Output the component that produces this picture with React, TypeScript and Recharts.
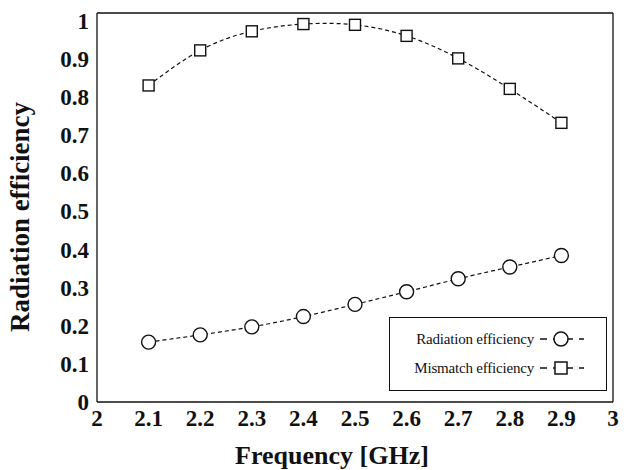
import { Legend, Line, LineChart, XAxis, YAxis } from "recharts";

const frequency = [2.1, 2.2, 2.3, 2.4, 2.5, 2.6, 2.7, 2.8, 2.9];
const radiationEff = [0.157, 0.176, 0.197, 0.224, 0.256, 0.289, 0.323, 0.354, 0.384];
const mismatchEff = [0.83, 0.922, 0.972, 0.991, 0.989, 0.96, 0.901, 0.821, 0.732];

const xTicks = [2, 2.1, 2.2, 2.3, 2.4, 2.5, 2.6, 2.7, 2.8, 2.9, 3];
const yTicks = [0, 0.1, 0.2, 0.3, 0.4, 0.5, 0.6, 0.7, 0.8, 0.9, 1];
const xLabels = ["2", "2.1", "2.2", "2.3", "2.4", "2.5", "2.6", "2.7", "2.8", "2.9", "3"];
const yLabels = ["0", "0.1", "0.2", "0.3", "0.4", "0.5", "0.6", "0.7", "0.8", "0.9", "1"];

const seriesNames = ["Radiation efficiency", "Mismatch efficiency"];

// minor ticks every 0.02 between the major ones
function minorTicks(from: number, to: number) {
  const out: number[] = [];
  for (let i = Math.round(from * 50); i <= Math.round(to * 50); i++) {
    if (i % 5 !== 0) out.push(i / 50);
  }
  return out;
}
const xMinor = minorTicks(2, 3);
const yMinor = minorTicks(0, 1.02);

const data = frequency.map((f, i) => ({ f, rad: radiationEff[i], mis: mismatchEff[i] }));

const serif = "Liberation Serif";
const ink = "#111";
const X_DOMAIN = [2, 3];
const Y_DOMAIN = [0, 1.02];

function SquareDot(props: any) {
  const { cx, cy, index } = props;
  if (cx == null || cy == null) return null;
  return <rect key={`sq-${index}`} x={cx - 5.5} y={cy - 5.5} width={11} height={11} fill="#fff" stroke={ink} strokeWidth={1.4} />;
}

function CircleDot(props: any) {
  const { cx, cy, index } = props;
  if (cx == null || cy == null) return null;
  return <circle key={`ci-${index}`} cx={cx} cy={cy} r={7} fill="#fff" stroke={ink} strokeWidth={1.4} />;
}

function LegendBox() {
  const rows = [
    { name: seriesNames[0], shape: "circle" },
    { name: seriesNames[1], shape: "square" }
  ];
  return (
    <div style={{ position: "relative", width: 218, height: 74, border: `1px solid ${ink}`, background: "#fff", boxSizing: "border-box", fontFamily: serif, fontSize: 15, color: ink }}>
      {rows.map((row, i) => (
        <div key={row.name} style={{ position: "absolute", right: 20, top: 12 + i * 29, display: "flex", alignItems: "center", whiteSpace: "nowrap", letterSpacing: -0.2 }}>
          <span>{row.name}</span>
          <svg width={48} height={18} style={{ marginLeft: 4 }}>
            <line x1={2} x2={46} y1={9} y2={9} stroke={ink} strokeWidth={1.5} strokeDasharray="7 6" />
            {row.shape === "circle"
              ? <circle cx={23} cy={9} r={7} fill="#fff" stroke={ink} strokeWidth={1.5} />
              : <rect x={17} y={3} width={12} height={12} fill="#fff" stroke={ink} strokeWidth={1.5} />}
          </svg>
        </div>
      ))}
    </div>
  );
}

const boldSerif = { fontFamily: serif, fontWeight: 700 };
const tickStyle = { fill: ink, fontSize: 23, style: boldSerif };
const tickLine = { stroke: ink, strokeWidth: 1 };

export default function App() {
  return (
    <div style={{ position: "absolute", left: 0, top: 0, width: 630, height: 470, background: "#fff", fontFamily: serif }}>
      <LineChart width={630} height={470} data={data} margin={{ top: 13, right: 17, bottom: 0, left: 0 }} style={{ fontFamily: serif }}>
        <XAxis
          xAxisId="x" dataKey="f" type="number" domain={X_DOMAIN} ticks={xTicks} interval={0} allowDataOverflow
          height={68} tickSize={0} tickMargin={8} tickLine={false}
          tickFormatter={(v: number) => xLabels[xTicks.indexOf(v)] ?? String(v)}
          axisLine={{ stroke: ink, strokeWidth: 1.3 }} tick={tickStyle}
          label={() => (
            <text x={332} y={464} textAnchor="middle" fontSize={26} fill={ink} style={boldSerif}>Frequency [GHz]</text>
          )}
        />
        <YAxis
          yAxisId="y" type="number" domain={Y_DOMAIN} ticks={yTicks} interval={0} allowDataOverflow
          width={97} tickSize={0} tickMargin={8} tickLine={false}
          tickFormatter={(v: number) => yLabels[yTicks.indexOf(v)] ?? String(v)}
          axisLine={{ stroke: ink, strokeWidth: 1.3 }} tick={tickStyle}
          label={() => (
            <text x={29} y={217} transform="rotate(-90 29 217)" textAnchor="middle" fontSize={27} fill={ink} style={boldSerif}>Radiation efficiency</text>
          )}
        />

        {/* inward tick marks on all four sides */}
        <XAxis xAxisId="bMaj" type="number" domain={X_DOMAIN} ticks={xTicks} interval={0} mirror tick={false} tickSize={7} axisLine={false} tickLine={tickLine} />
        <XAxis xAxisId="bMin" type="number" domain={X_DOMAIN} ticks={xMinor} interval={0} mirror tick={false} tickSize={4} axisLine={false} tickLine={tickLine} />
        <XAxis xAxisId="tMaj" orientation="top" type="number" domain={X_DOMAIN} ticks={xTicks} interval={0} mirror tick={false} tickSize={7} axisLine={{ stroke: ink, strokeWidth: 1.3 }} tickLine={tickLine} />
        <XAxis xAxisId="tMin" orientation="top" type="number" domain={X_DOMAIN} ticks={xMinor} interval={0} mirror tick={false} tickSize={4} axisLine={false} tickLine={tickLine} />
        <YAxis yAxisId="lMaj" type="number" domain={Y_DOMAIN} ticks={yTicks} interval={0} allowDataOverflow mirror tick={false} tickSize={7} axisLine={false} tickLine={tickLine} />
        <YAxis yAxisId="lMin" type="number" domain={Y_DOMAIN} ticks={yMinor} interval={0} allowDataOverflow mirror tick={false} tickSize={4} axisLine={false} tickLine={tickLine} />
        <YAxis yAxisId="rMaj" orientation="right" type="number" domain={Y_DOMAIN} ticks={yTicks} interval={0} allowDataOverflow mirror tick={false} tickSize={7} axisLine={{ stroke: ink, strokeWidth: 1.3 }} tickLine={tickLine} />
        <YAxis yAxisId="rMin" orientation="right" type="number" domain={Y_DOMAIN} ticks={yMinor} interval={0} allowDataOverflow mirror tick={false} tickSize={4} axisLine={false} tickLine={tickLine} />

        <Line xAxisId="x" yAxisId="y" name={seriesNames[0]} dataKey="rad" type="natural" stroke={ink} strokeWidth={1.2} strokeDasharray="4 3" dot={CircleDot} isAnimationActive={false} />
        <Line xAxisId="x" yAxisId="y" name={seriesNames[1]} dataKey="mis" type="natural" stroke={ink} strokeWidth={1.2} strokeDasharray="4 3" dot={SquareDot} isAnimationActive={false} />

        <Legend layout="horizontal" align="center" verticalAlign="middle" content={LegendBox} wrapperStyle={{ left: 389, top: 317, width: 218, height: 74 }} />
      </LineChart>
    </div>
  );
}
